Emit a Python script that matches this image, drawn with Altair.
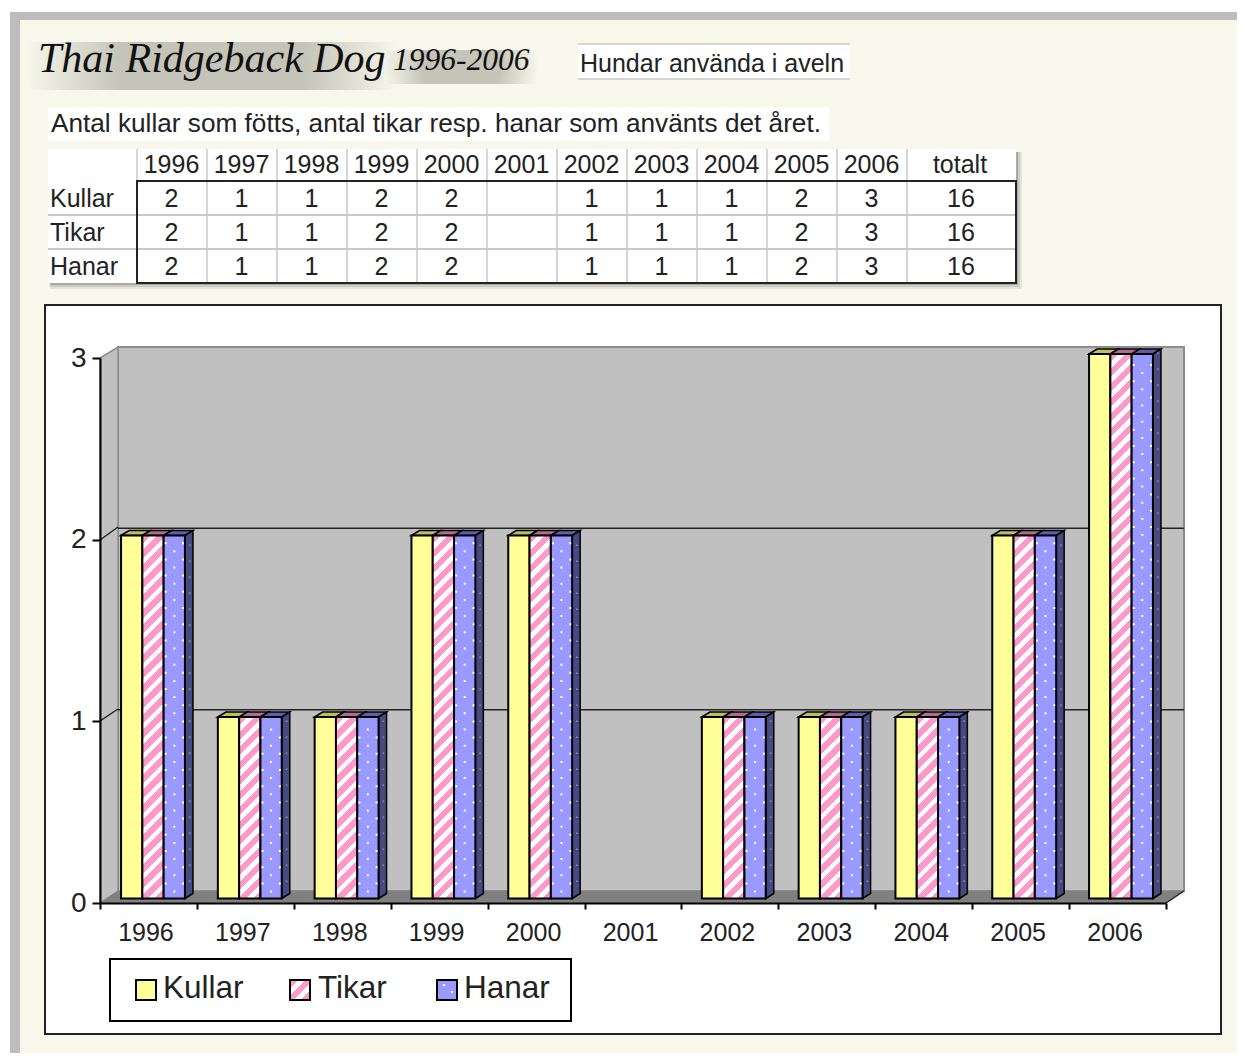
import altair as alt
import pandas as pd

# ---- values ----
years = ["1996","1997","1998","1999","2000","2001","2002","2003","2004","2005","2006"]
series = ["Kullar","Tikar","Hanar"]
kullar = [2,1,1,2,2,None,1,1,1,2,3]
tikar  = [2,1,1,2,2,None,1,1,1,2,3]
hanar  = [2,1,1,2,2,None,1,1,1,2,3]
totals = [16,16,16]
title_main = "Thai Ridgeback Dog"
title_years = "1996-2006"
subtitle = "Antal kullar som fötts, antal tikar resp. hanar som använts det året."
box_label = "Hundar använda i aveln"

YEL, PINK, BLUE = "#FFFF99", "#FF99CC", "#9999FF"
TXT = "#222222"
FONT = "Liberation Sans"

rows = []
for s, vals in zip(series, [kullar, tikar, hanar]):
    for y, v in zip(years, vals):
        rows.append({"year": y, "series": s, "value": v})
long_df = pd.DataFrame(rows)
bars_df = long_df.dropna(subset=["value"]).copy()
one = alt.Data(values=[{"a": 1}])

def X(p): return alt.value(p - 8)
def Y(p): return alt.value(p - 8)

def rect(x0, y0, x1, y1, fill, **kw):
    return alt.Chart(one).mark_rect(fill=fill, **kw).encode(x=X(x0), x2=X(x1), y=Y(y0), y2=Y(y1))

def line(x0, y0, x1, y1, color="#000000", w=1, **kw):
    return alt.Chart(one).mark_rule(color=color, strokeWidth=w, **kw).encode(x=X(x0), x2=X(x1), y=Y(y0), y2=Y(y1))

def label(px, py, txt, size=25, align="left", font=FONT, color=TXT, **kw):
    return alt.Chart(one).mark_text(text=txt, fontSize=size, align=align, baseline="middle",
                                    font=font, color=color, **kw).encode(x=X(px), y=Y(py))

def shape(path, fill, stroke=None, w=1):
    # path is written in picture pixels: the anchor sits on the picture's origin
    kw = dict(shape=path, size=4, filled=True, fill=fill, opacity=1, strokeWidth=w)
    if stroke:
        kw["stroke"] = stroke
    return alt.Chart(one).mark_point(**kw).encode(x=X(0), y=Y(0))

def stripes(w, h, period=15.0, white=6.5):
    # 45-degree hatch built as a hard-stop linear gradient
    ratio = w / h
    s = (w + h) / h / (1 + ratio * ratio)
    total = w + h
    stops, p = [], 0.0
    while p < total:
        a, b, c = p / total, min(1, (p + period - white) / total), min(1, (p + period) / total)
        stops += [alt.GradientStop(offset=a, color=PINK), alt.GradientStop(offset=b, color=PINK),
                  alt.GradientStop(offset=b, color="#FFFFFF"), alt.GradientStop(offset=c, color="#FFFFFF")]
        p += period
    return alt.LinearGradient(gradient="linear", stops=stops, x1=0, y1=0, x2=s * ratio, y2=s)

def glow(x0, y0, x1, y1, color="#77776A", alpha=0.4):
    g = alt.RadialGradient(gradient="radial", stops=[
        alt.GradientStop(offset=0, color=color), alt.GradientStop(offset=0.5, color=color),
        alt.GradientStop(offset=1, color="#F7F7EC")])
    return rect(x0, y0, x1, y1, g, opacity=alpha)

# ---- page background ----
bg = [
    rect(10, 12, 1237, 1053, "#BDBDBD"),
    rect(20, 20, 1237, 1053, "#F7F7EC"),
]

# ---- headings ----
heads = [
    glow(26, 42, 398, 90),
    glow(384, 50, 538, 84),
    label(38, 59, title_main, 42, font="Liberation Serif", fontStyle="italic", color="#111111"),
    label(393, 61, title_years, 31.5, font="Liberation Serif", fontStyle="italic", color="#111111"),
    rect(578, 44, 850, 79, "#FFFFFF"),
    line(578, 44, 850, 44, "#C8C8C8", 1.5),
    line(578, 79, 850, 79, "#C8C8C8", 1.5),
    label(580, 64, box_label, 25),
    rect(48, 107, 829, 141, "#FFFFFF"),
    label(51, 124, subtitle, 26.2),
]

# ---- table ----
col_edges = [137, 207, 277, 347, 417, 487, 557, 627, 697, 767, 837, 907]
table = []
for d, op in [(6, .10), (4, .15), (2, .25)]:
    table.append(rect(50, 152, 1016 + d, 283 + d, "#444444", opacity=op))
table.append(rect(48, 149, 1016, 283, "#FFFFFF"))
for e in col_edges:
    table.append(line(e, 149, e, 283, "#C8C8C8", 1.5))
for yy in (215, 249):
    table.append(line(48, yy, 1016, yy, "#C8C8C8", 2))
table.append(alt.Chart(one).mark_rect(fillOpacity=0, stroke="#222222", strokeWidth=2).encode(x=X(137), x2=X(1016), y=Y(181), y2=Y(283)))

tx = alt.Scale(type="point", domain=years, range=[163.5, 863.5], padding=0)
ty = alt.Scale(type="point", domain=series, range=[191, 259], padding=0)
table.append(alt.Chart(pd.DataFrame({"year": years})).mark_text(fontSize=25, font=FONT, color=TXT, baseline="middle")
             .encode(x=alt.X("year:N", scale=tx, axis=None), y=Y(165), text="year:N"))
table.append(label(960, 165, "totalt", 25, align="center"))
table.append(alt.Chart(bars_df).mark_text(fontSize=25, font=FONT, color=TXT, baseline="middle")
             .encode(x=alt.X("year:N", scale=tx, axis=None),
                     y=alt.Y("series:N", scale=ty, axis=None),
                     text=alt.Text("value:Q", format="d")))
table.append(alt.Chart(pd.DataFrame({"series": series})).mark_text(fontSize=25, font=FONT, color=TXT, baseline="middle", align="left")
             .encode(x=X(50), y=alt.Y("series:N", scale=ty, axis=None), text="series:N"))
table.append(alt.Chart(pd.DataFrame({"series": series, "total": totals})).mark_text(fontSize=25, font=FONT, color=TXT, baseline="middle")
             .encode(x=X(961), y=alt.Y("series:N", scale=ty, axis=None), text="total:Q"))

# ---- chart frame and walls ----
frame = [
    alt.Chart(one).mark_rect(fill="#FFFFFF", stroke="#222222", strokeWidth=2).encode(x=X(45), x2=X(1221), y=Y(305), y2=Y(1034)),
    rect(118, 347, 1184, 891, "#C0C0C0", stroke="#8C8C8C", strokeWidth=2),
    shape("M100 358 L118 347 L118 891 L100 903 Z", "#C0C0C0", "#8C8C8C", 1.5),
    shape("M100 903 L118 891 L1184 891 L1166 903 Z", "#808080"),
]
wall_y = alt.Scale(domain=[0, 3], range=[883, 339], nice=False)
frame.append(alt.Chart(pd.DataFrame({"v": [1, 2]})).mark_rule(color="#222222", strokeWidth=1.5)
             .encode(x=X(118), x2=X(1184), y=alt.Y("v:Q", scale=wall_y, axis=None)))
for y0, y1 in [(540, 527), (721, 709)]:
    frame.append(line(100, y0, 118, y1, "#222222", 1.5))
frame.append(line(1166, 903, 1184, 891, "#222222", 1.5))

# ---- bars ----
BW = 64 / 3
PX = 181.5
DX, DY = 8, 5
x_bar = alt.X("year:N", axis=None, scale=alt.Scale(type="band", domain=years, range=[96.6, 1161.4], paddingInner=0.34, paddingOuter=0.17))
xo = alt.XOffset("series:N", scale=alt.Scale(domain=series))
y_bar = alt.Y("value:Q", axis=None, scale=alt.Scale(domain=[0, 3], range=[890.5, 346], nice=False))
x_pt = dict(x=x_bar, xOffset=xo)

def sel(s, v=None):
    d = bars_df[bars_df["series"] == s]
    if v is not None:
        d = d[d["value"] == v]
    return d

TOP = f"M{-BW/2:.2f} 0 L{-BW/2+DX:.2f} {-DY} L{BW/2+DX:.2f} {-DY} L{BW/2:.2f} 0 Z"
bar_layers = []
for s, col in zip(series, ["#BDBD62", "#B06C90", "#5F5FA8"]):
    bar_layers.append(alt.Chart(sel(s)).mark_point(shape=TOP, size=4, filled=True, fill=col, stroke="#000000",
                                                   strokeWidth=1.5, opacity=1)
                      .encode(y=y_bar, **x_pt))

for v in (1, 2, 3):
    h = PX * v
    side = (f"M{BW/2:.2f} 0 L{BW/2+DX:.2f} {-DY} L{BW/2+DX:.2f} {-h-DY:.1f} L{BW/2:.2f} {-h:.1f} Z")
    d0 = sel("Hanar", v).assign(value=0)
    bar_layers.append(alt.Chart(d0).mark_point(shape=side, size=4, filled=True, fill="#474A80", stroke="#000000",
                                               strokeWidth=1.5, opacity=1)
                      .encode(y=y_bar, **x_pt))
    sd, k = [], 1
    while k * 16 < h:
        sd.append(f"M{BW/2+4:.1f} {-k*16-2:.1f} h1.6 v1.6 h-1.6 z")
        k += 1
    bar_layers.append(alt.Chart(d0).mark_point(shape=" ".join(sd), size=4, filled=True, fill="#8A8ABF", opacity=1)
                      .encode(y=y_bar, **x_pt))

bar_layers.append(alt.Chart(sel("Kullar")).mark_bar(fill=YEL, stroke="#000000", strokeWidth=2).encode(y=y_bar, **x_pt))
for v in (1, 2, 3):
    bar_layers.append(alt.Chart(sel("Tikar", v)).mark_bar(fill=stripes(BW, PX * v), stroke="#000000", strokeWidth=2)
                      .encode(y=y_bar, **x_pt))
bar_layers.append(alt.Chart(sel("Hanar")).mark_bar(fill=BLUE, stroke="#000000", strokeWidth=2).encode(y=y_bar, **x_pt))
for v in (1, 2, 3):
    h = PX * v
    dd, r = [], 0
    yy = 8.0
    while yy < h - 4:
        cols = (-1.0,) if r % 2 == 0 else (-9.5, 7.7)
        for c in cols:
            dd.append(f"M{c:.1f} {-yy:.1f} h2 v2 h-2 z")
        yy += 8.1
        r += 1
    d0 = sel("Hanar", v).assign(value=0)
    bar_layers.append(alt.Chart(d0).mark_point(shape=" ".join(dd), size=4, filled=True, fill="#FFFFFF", opacity=1)
                      .encode(y=y_bar, **x_pt))

# ---- axes ----
PLOT_W, PLOT_H = 1229, 1045
x_axis = alt.Chart(pd.DataFrame({"year": years})).mark_rule(opacity=0).encode(
    x=alt.X("year:N", title=None,
            scale=alt.Scale(type="band", domain=years, range=[92, 1158], paddingInner=0, paddingOuter=0),
            axis=alt.Axis(orient="bottom", offset=895 - PLOT_H, tickBand="extent", labelAngle=0, labelFontSize=25,
                          labelFont=FONT, labelColor=TXT, labelPadding=11, labelOffset=-3,
                          tickSize=6, tickColor="#000000", tickWidth=2, domainColor="#000000", domainWidth=2,
                          grid=False, zindex=1)))
y_axis = alt.Chart(pd.DataFrame({"v": [0, 1, 2, 3]})).mark_rule(opacity=0).encode(
    y=alt.Y("v:Q", title=None,
            scale=alt.Scale(domain=[0, 3], range=[895, 350], nice=False),
            axis=alt.Axis(orient="left", offset=-92, values=[0, 1, 2, 3], format="d", labelFontSize=28,
                          labelFont=FONT, labelColor=TXT, labelPadding=6,
                          tickSize=8, tickColor="#000000", tickWidth=2, domainColor="#000000", domainWidth=2,
                          grid=False, zindex=1)))

# ---- legend ----
legend = [alt.Chart(one).mark_rect(fill="#FFFFFF", stroke="#000000", strokeWidth=2).encode(x=X(110), x2=X(571), y=Y(959), y2=Y(1021))]
sw_x = [136, 290, 437]
tx_x = [163, 318, 464]
fills = [YEL, stripes(20, 20, 15, 6.5), BLUE]
for s, sx, lx, f in zip(series, sw_x, tx_x, fills):
    legend.append(alt.Chart(one).mark_rect(fill=f, stroke="#000000", strokeWidth=2).encode(x=X(sx), x2=X(sx + 20), y=Y(980), y2=Y(1000)))
    legend.append(label(lx, 989, s, 31.5))
legend.append(shape("M443 984 h2 v2 h-2 z M451 991 h2 v2 h-2 z", "#FFFFFF"))

chart = alt.layer(*bg, *heads, *table, *frame, alt.layer(*bar_layers), x_axis, y_axis, *legend).resolve_scale(
    x="independent", y="independent"
).properties(
    width=PLOT_W, height=PLOT_H, padding=0, autosize=alt.AutoSizeParams(type="none"), background="#FFFFFF"
).configure_view(stroke=None)

chart.save("out.html", embed_options={"renderer": "svg", "actions": False})
